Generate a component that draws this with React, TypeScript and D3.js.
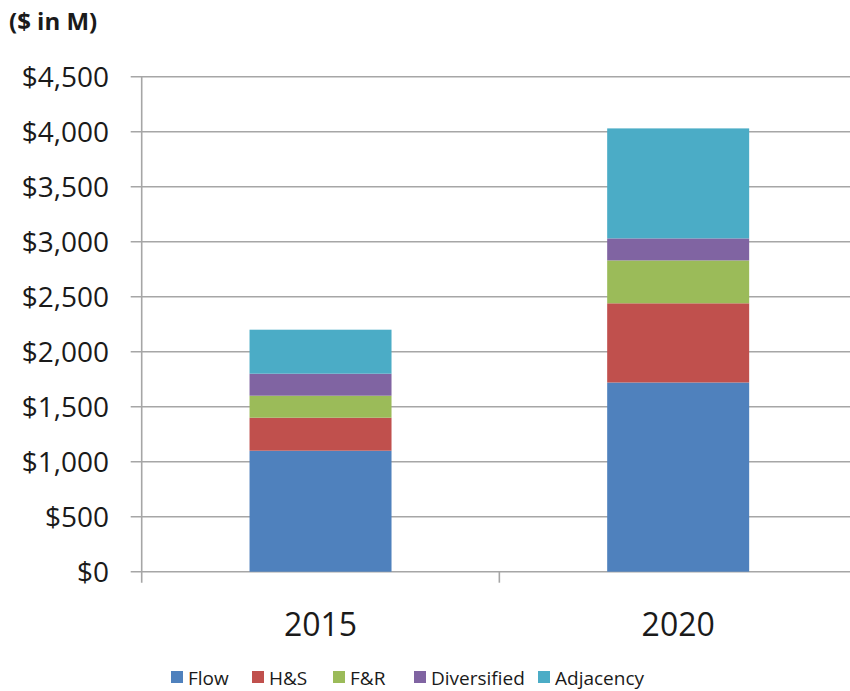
import { useEffect, useRef } from "react";
import * as d3 from "d3";

// Données ($ en millions)
const years = ["2015", "2020"];
const seriesNames = ["Flow", "H&S", "F&R", "Diversified", "Adjacency"];
const seriesColors = ["#4F81BD", "#C0504D", "#9BBB59", "#8064A2", "#4BACC6"];
const flow = [1100, 1720];
const hs = [300, 720];
const fr = [200, 390];
const diversified = [200, 200];
const adjacency = [400, 1000];
const yTicks = [0, 500, 1000, 1500, 2000, 2500, 3000, 3500, 4000, 4500];

const W = 850;
const H = 691;
const FONT = "'Open Sans', sans-serif";

export default function App() {
  const svgRef = useRef<SVGSVGElement>(null);

  useEffect(() => {
    if (!svgRef.current) return;
    const svg = d3.select(svgRef.current);
    svg.selectAll("*").remove();

    const left = 141.7;
    const right = 857;
    const top = 76.7;
    const bottom = 571.7;

    const rows = years.map((year, i) => ({
      year,
      Flow: flow[i],
      "H&S": hs[i],
      "F&R": fr[i],
      Diversified: diversified[i],
      Adjacency: adjacency[i],
    }));

    const x = d3.scaleBand<string>()
      .domain(years)
      .range([left, right])
      .paddingInner(0.603)
      .paddingOuter(0.3015);

    const y = d3.scaleLinear().domain([0, 4500]).range([bottom, top]);

    const color = d3.scaleOrdinal<string, string>().domain(seriesNames).range(seriesColors);

    const stack = d3.stack<any>().keys(seriesNames);
    const stacked = stack(rows);

    // Grille
    svg.append("g")
      .selectAll("line")
      .data(yTicks)
      .join("line")
      .attr("x1", left - 11)
      .attr("x2", right)
      .attr("y1", d => y(d))
      .attr("y2", d => y(d))
      .attr("stroke", "#a6a6a6")
      .attr("stroke-width", 1.6);

    // Barres
    svg.append("g")
      .selectAll("g")
      .data(stacked)
      .join("g")
      .attr("fill", d => color(d.key))
      .selectAll("rect")
      .data(d => d)
      .join("rect")
      .attr("x", d => x(d.data.year)!)
      .attr("width", x.bandwidth())
      .attr("y", d => y(d[1]))
      .attr("height", d => y(d[0]) - y(d[1]));

    // Axe vertical et graduations des catégories
    svg.append("line")
      .attr("x1", left).attr("x2", left)
      .attr("y1", top).attr("y2", bottom + 11)
      .attr("stroke", "#a6a6a6").attr("stroke-width", 1.6);

    const step = x.step();
    svg.append("g")
      .selectAll("line")
      .data(years.slice(1))
      .join("line")
      .attr("x1", d => x(d)! - step * x.paddingInner() / 2)
      .attr("x2", d => x(d)! - step * x.paddingInner() / 2)
      .attr("y1", bottom)
      .attr("y2", bottom + 11)
      .attr("stroke", "#a6a6a6").attr("stroke-width", 1.6);

    // Étiquettes Y
    svg.append("g")
      .selectAll("text")
      .data(yTicks)
      .join("text")
      .attr("x", 109)
      .attr("y", d => y(d))
      .attr("dy", "0.36em")
      .attr("text-anchor", "end")
      .style("font-family", FONT)
      .style("font-size", "28px")
      .style("fill", "#1a1a1a")
      .text(d => "$" + d3.format(",")(d));

    // Étiquettes X
    svg.append("g")
      .selectAll("text")
      .data(years)
      .join("text")
      .attr("x", d => x(d)! + x.bandwidth() / 2)
      .attr("y", 636)
      .attr("text-anchor", "middle")
      .style("font-family", FONT)
      .style("font-size", "32px")
      .style("fill", "#1a1a1a")
      .text(d => d);

    // Titre
    svg.append("text")
      .attr("x", 9)
      .attr("y", 30)
      .style("font-family", FONT)
      .style("font-size", "24px")
      .style("font-weight", "bold")
      .style("fill", "#1a1a1a")
      .text("($ in M)");

    // Légende
    const legendX = [171, 252, 333, 414, 538];
    const lg = svg.append("g")
      .selectAll("g")
      .data(seriesNames)
      .join("g")
      .attr("transform", (d, i) => `translate(${legendX[i]}, 671)`);
    lg.append("rect")
      .attr("width", 12)
      .attr("height", 12)
      .attr("fill", d => color(d));
    lg.append("text")
      .attr("x", 17)
      .attr("y", 13.5)
      .style("font-family", FONT)
      .style("font-size", "19px")
      .style("fill", "#1a1a1a")
      .text(d => d);
  }, []);

  return (
    <div style={{ position: "fixed", left: 0, top: 0 }}>
      <svg ref={svgRef} width={W} height={H} style={{ display: "block", background: "white" }} />
    </div>
  );
}
